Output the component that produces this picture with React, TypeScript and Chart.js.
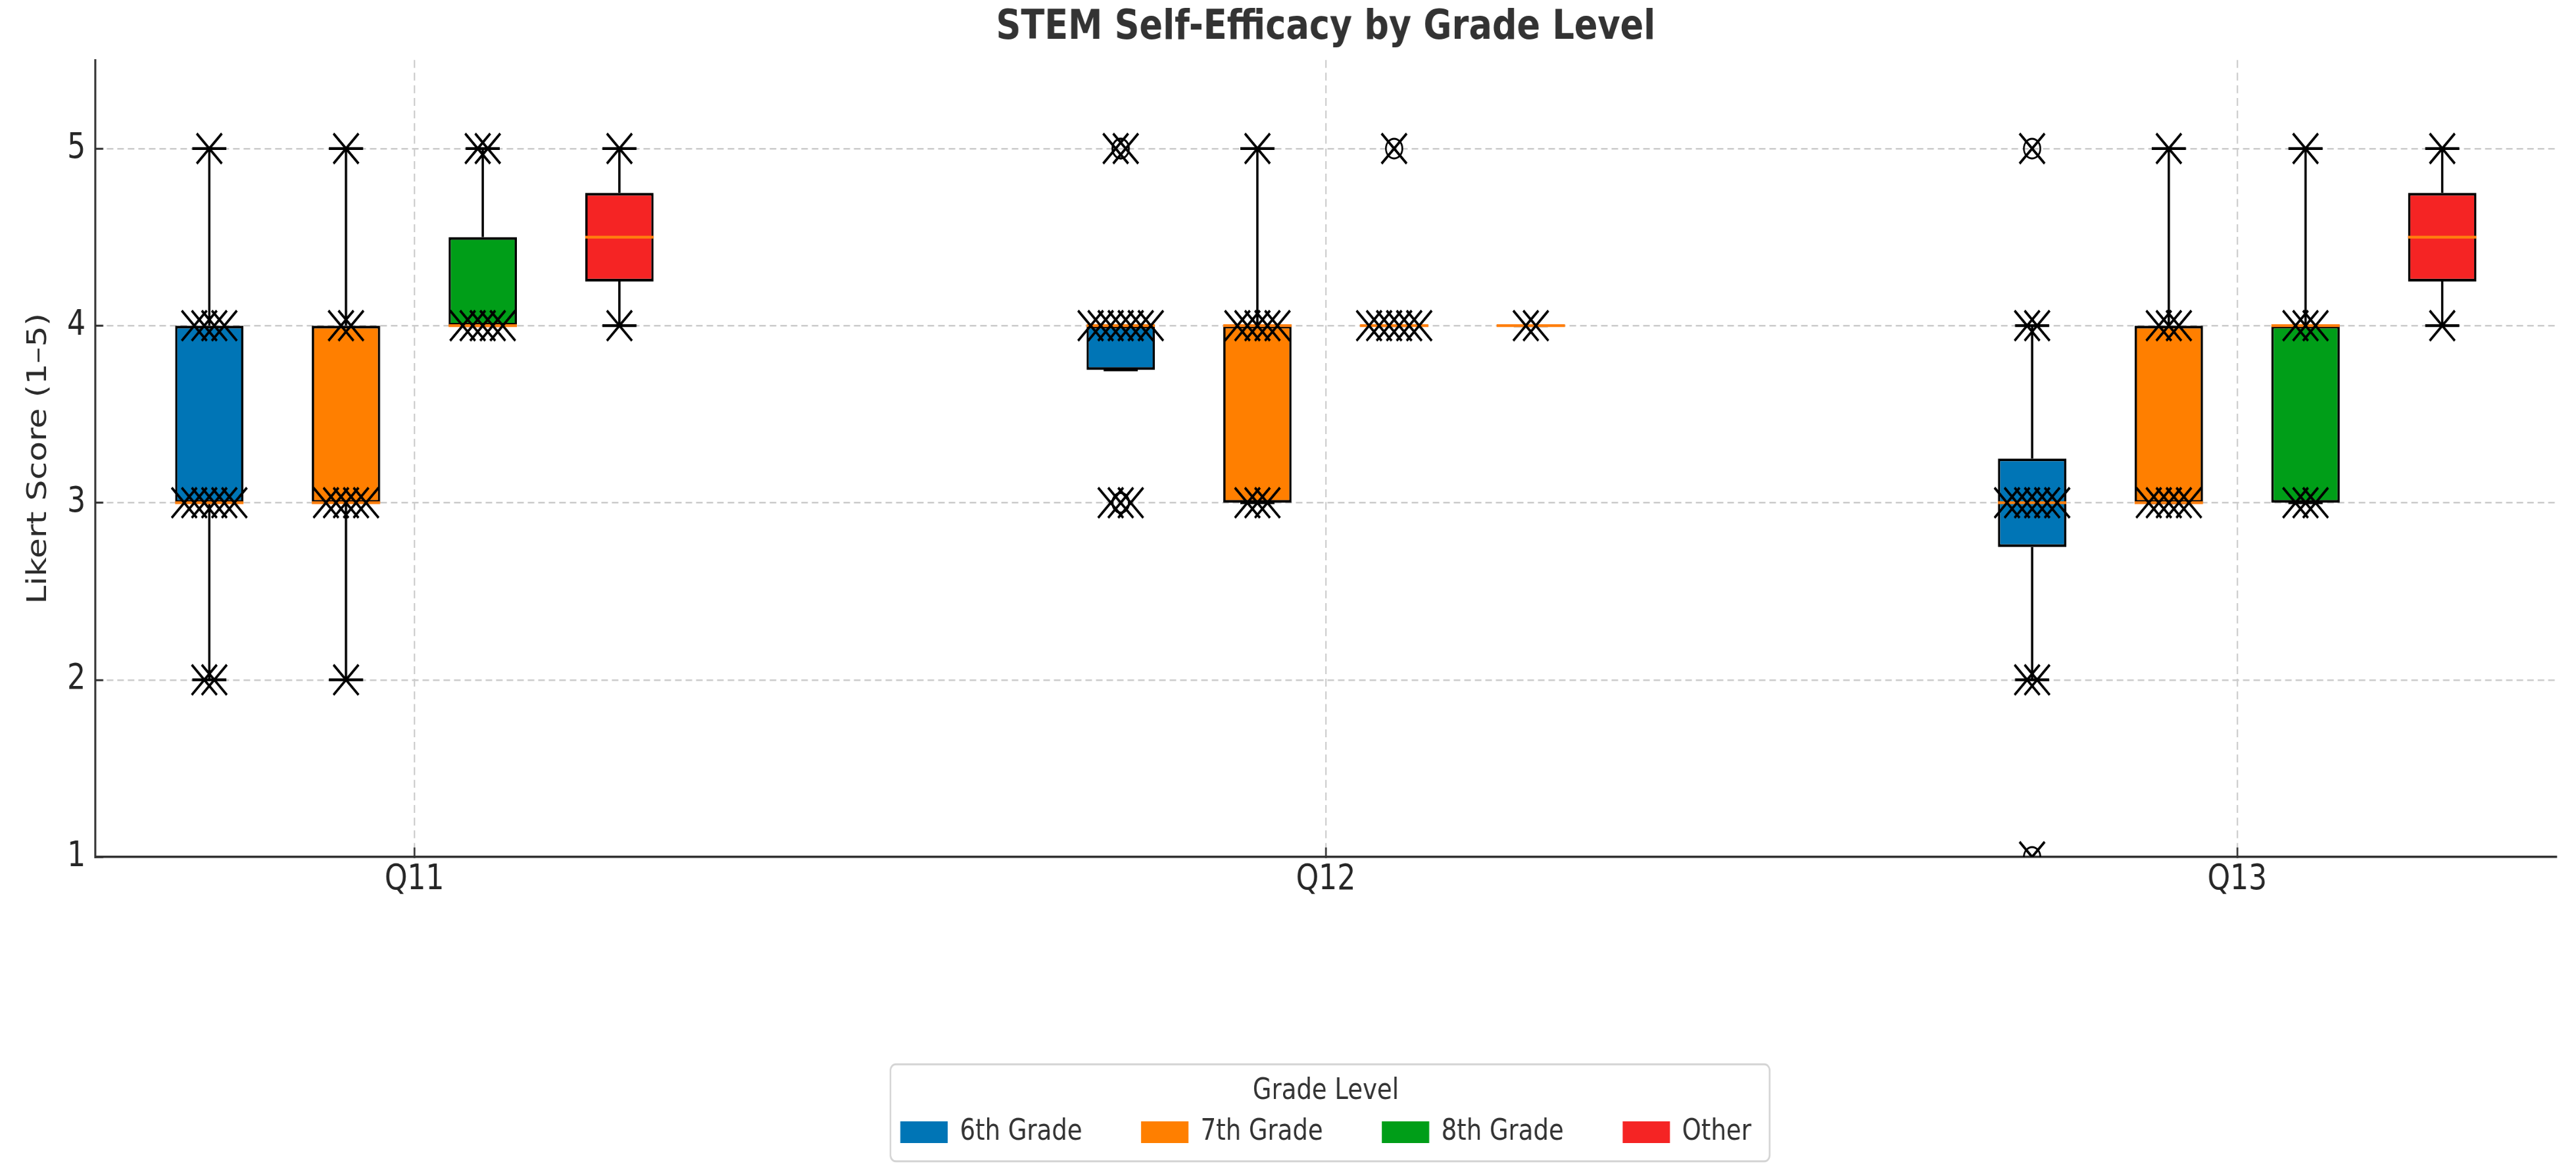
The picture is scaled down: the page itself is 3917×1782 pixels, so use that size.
import { useEffect, useRef } from "react";
import { Chart, registerables } from "chart.js";

Chart.register(...registerables);

Chart.defaults.font.family = "'DejaVu Sans', sans-serif";
Chart.defaults.color = "#262626";

const questionLabels = ["Q11", "Q12", "Q13"];
const gradeLabels = ["6th Grade", "7th Grade", "8th Grade", "Other"];
const gradeColors = ["#0075b6", "#ff7f00", "#009e18", "#f52424"];
const yTickValues = [1, 2, 3, 4, 5];

// Likert answers, one inner array per question (Q11, Q12, Q13)
const sixthGradeScores = [
  [2, 2, 3, 3, 3, 3, 3, 3, 4, 4, 4, 4, 5],
  [3, 3, 3, 4, 4, 4, 4, 4, 4, 4, 5, 5],
  [1, 2, 2, 3, 3, 3, 3, 3, 3, 4, 4, 5],
];
const seventhGradeScores = [
  [2, 3, 3, 3, 3, 3, 4, 4, 5],
  [3, 3, 3, 4, 4, 4, 4, 4, 5],
  [3, 3, 3, 3, 3, 4, 4, 4, 5],
];
const eighthGradeScores = [
  [4, 4, 4, 4, 4, 5, 5],
  [4, 4, 4, 4, 4, 4, 5],
  [3, 3, 3, 4, 4, 4, 5],
];
const otherScores = [
  [4, 5],
  [4, 4],
  [4, 5],
];

const gradeScores = [sixthGradeScores, seventhGradeScores, eighthGradeScores, otherScores];

// the picture is a bit stretched vertically, so draw lower and scale the canvas up
const STRETCH = 1.2;
const WIDTH = 3917;
const HEIGHT = 1782 / STRETCH;

const BOX_STEP = 0.15;
const BAR_PERCENT = 0.5;
const BOX_WIDTH = BOX_STEP * BAR_PERCENT;
const CAP_WIDTH = BOX_WIDTH / 2;
const JITTER_STEP = 0.011;

function quantile(sorted: number[], p: number) {
  const pos = (sorted.length - 1) * p;
  const lo = Math.floor(pos);
  const hi = Math.ceil(pos);
  return sorted[lo] + (sorted[hi] - sorted[lo]) * (pos - lo);
}

function boxStats(values: number[]) {
  const s = [...values].sort((a, b) => a - b);
  const q1 = quantile(s, 0.25);
  const med = quantile(s, 0.5);
  const q3 = quantile(s, 0.75);
  const iqr = q3 - q1;
  const loLimit = q1 - 1.5 * iqr;
  const hiLimit = q3 + 1.5 * iqr;
  const inside = s.filter((v) => v >= loLimit && v <= hiLimit);
  return {
    q1,
    med,
    q3,
    lo: Math.min(Math.min(...inside), q1),
    hi: Math.max(Math.max(...inside), q3),
    fliers: s.filter((v) => v < loLimit || v > hiLimit),
  };
}

const boxCenter = (question: number, grade: number) => question + (grade - 1.5) * BOX_STEP;

// rounded frame round the legend, like the matplotlib one
const legendFrame = {
  id: "legendFrame",
  afterDraw(chart: any) {
    const boxes = chart.legend && chart.legend.legendHitBoxes;
    if (!boxes || !boxes.length) return;
    const first = boxes[0];
    const last = boxes[boxes.length - 1];
    const midY = first.top + first.height / 2;
    const left = first.left - 15;
    const right = last.left + last.width + 28;
    const top = midY - 86;
    const bottom = midY + 37;
    const ctx = chart.ctx;
    ctx.save();
    ctx.strokeStyle = "#d4d4d4";
    ctx.lineWidth = 2.5;
    ctx.beginPath();
    ctx.roundRect(left, top, right - left, bottom - top, 8);
    ctx.stroke();
    ctx.restore();
  },
};

export default function App() {
  const canvasRef = useRef<HTMLCanvasElement | null>(null);
  const chartRef = useRef<Chart | null>(null);

  useEffect(() => {
    if (!canvasRef.current) return;
    if (chartRef.current) chartRef.current.destroy();

    const boxes: any[] = [];
    const whiskers: any[] = [];
    const caps: any[] = [];
    const medians: any[] = [];
    const fliers: any[] = [];
    const points: any[] = [];

    gradeScores.forEach((grade, g) => {
      const data: any[] = [];
      grade.forEach((values, q) => {
        const st = boxStats(values);
        const x = boxCenter(q, g);
        data.push({ x, y: [st.q1, st.q3] });

        whiskers.push({ x, y: st.lo }, { x, y: st.q1 }, { x, y: null });
        whiskers.push({ x, y: st.q3 }, { x, y: st.hi }, { x, y: null });

        [st.lo, st.hi].forEach((y) => {
          caps.push({ x: x - CAP_WIDTH / 2, y }, { x: x + CAP_WIDTH / 2, y }, { x, y: null });
        });

        medians.push(
          { x: x - BOX_WIDTH / 2, y: st.med },
          { x: x + BOX_WIDTH / 2, y: st.med },
          { x, y: null }
        );

        st.fliers.forEach((y) => fliers.push({ x, y }));

        // spread equal answers side by side
        const counts = new Map<number, number>();
        values.forEach((v) => counts.set(v, (counts.get(v) || 0) + 1));
        counts.forEach((k, v) => {
          for (let j = 0; j < k; j++) {
            points.push({ x: x + (j - (k - 1) / 2) * JITTER_STEP, y: v });
          }
        });
      });

      boxes.push({
        type: "bar",
        label: gradeLabels[g],
        data,
        backgroundColor: gradeColors[g],
        borderColor: "#000000",
        borderWidth: 3.5,
        borderSkipped: false,
        grouped: false,
        categoryPercentage: 1,
        barPercentage: BAR_PERCENT,
        order: 3,
      });
    });

    const segment = (data: any[], color: string, order: number) => ({
      type: "line",
      data,
      borderColor: color,
      borderWidth: 3.5,
      borderCapStyle: "butt",
      pointRadius: 0,
      pointHoverRadius: 0,
      spanGaps: false,
      fill: false,
      tension: 0,
      order,
    });

    chartRef.current = new Chart(canvasRef.current, {
      type: "scatter",
      data: {
        datasets: [
          ...boxes,
          segment(whiskers, "#000000", 4),
          segment(caps, "#000000", 2.5),
          segment(medians, "#ff7f0e", 2),
          {
            type: "scatter",
            data: fliers,
            pointStyle: "circle",
            pointRadius: 12.5,
            pointBackgroundColor: "rgba(0,0,0,0)",
            pointBorderColor: "#000000",
            pointBorderWidth: 2.5,
            order: 1,
          },
          {
            type: "scatter",
            data: points,
            pointStyle: "crossRot",
            pointRadius: 27,
            pointBorderColor: "#000000",
            pointBorderWidth: 3.5,
            order: 0,
          },
        ],
      } as any,
      options: {
        responsive: true,
        maintainAspectRatio: false,
        devicePixelRatio: STRETCH,
        animation: false,
        events: [],
        layout: { padding: { top: 0, left: 0, right: 27, bottom: 22 } },
        scales: {
          x: {
            type: "linear",
            min: -0.35,
            max: 2.35,
            offset: false,
            afterBuildTicks: (scale: any) => {
              scale.ticks = questionLabels.map((_, i) => ({ value: i }));
            },
            ticks: {
              callback: (v: any) => questionLabels[v] ?? "",
              padding: 14.8,
              font: { size: 44 },
              color: "#262626",
              autoSkip: false,
              maxRotation: 0,
            },
            grid: {
              offset: false,
              color: "#cccccc",
              lineWidth: 2,
              drawTicks: true,
              tickLength: -12,
              tickColor: "#333333",
              tickWidth: 2.5,
              tickBorderDash: [],
            },
            border: { display: true, color: "#333333", width: 3, dash: [10, 6] },
          },
          y: {
            type: "linear",
            min: 1,
            max: 5.5,
            beginAtZero: false,
            afterBuildTicks: (scale: any) => {
              scale.ticks = yTickValues.map((value) => ({ value }));
            },
            ticks: { padding: 27, font: { size: 44 }, color: "#262626" },
            title: {
              display: true,
              text: "Likert Score (1–5)",
              font: { size: 42 },
              color: "#2b2b2b",
              padding: { top: 33.8, bottom: -9.2 },
            },
            grid: {
              color: (c: any) => (c.tick && c.tick.value === 1 ? "rgba(0,0,0,0)" : "#cccccc"),
              lineWidth: 2,
              drawTicks: true,
              tickLength: -12,
              tickColor: "#333333",
              tickWidth: 2.5,
              tickBorderDash: [],
            },
            border: { display: true, color: "#333333", width: 3, dash: [10, 6] },
          },
        },
        plugins: {
          tooltip: { enabled: false },
          title: {
            display: true,
            text: "STEM Self-Efficacy by Grade Level",
            fullSize: false,
            color: "#333333",
            font: { size: 52.5, weight: "bold" },
            padding: { top: 4, bottom: 9.1 },
          },
          legend: {
            display: true,
            position: "bottom",
            fullSize: false,
            title: {
              display: true,
              text: "Grade Level",
              color: "#333333",
              font: { size: 37 },
              padding: { top: 208.3, bottom: -82.4 },
            },
            labels: {
              boxWidth: 72,
              boxHeight: 27.5,
              padding: 89.5,
              font: { size: 37 },
              color: "#262626",
              generateLabels: () =>
                gradeLabels.map((text, i) => ({
                  text,
                  fillStyle: gradeColors[i],
                  strokeStyle: gradeColors[i],
                  lineWidth: 0,
                  hidden: false,
                  datasetIndex: i,
                })),
            },
          },
        },
      } as any,
      plugins: [legendFrame],
    });

    return () => {
      if (chartRef.current) {
        chartRef.current.destroy();
        chartRef.current = null;
      }
    };
  }, []);

  return (
    <div
      style={{
        position: "absolute",
        left: 0,
        top: 0,
        width: WIDTH,
        height: HEIGHT,
        transform: `scaleY(${STRETCH})`,
        transformOrigin: "0 0",
      }}
    >
      <canvas ref={canvasRef} />
    </div>
  );
}
